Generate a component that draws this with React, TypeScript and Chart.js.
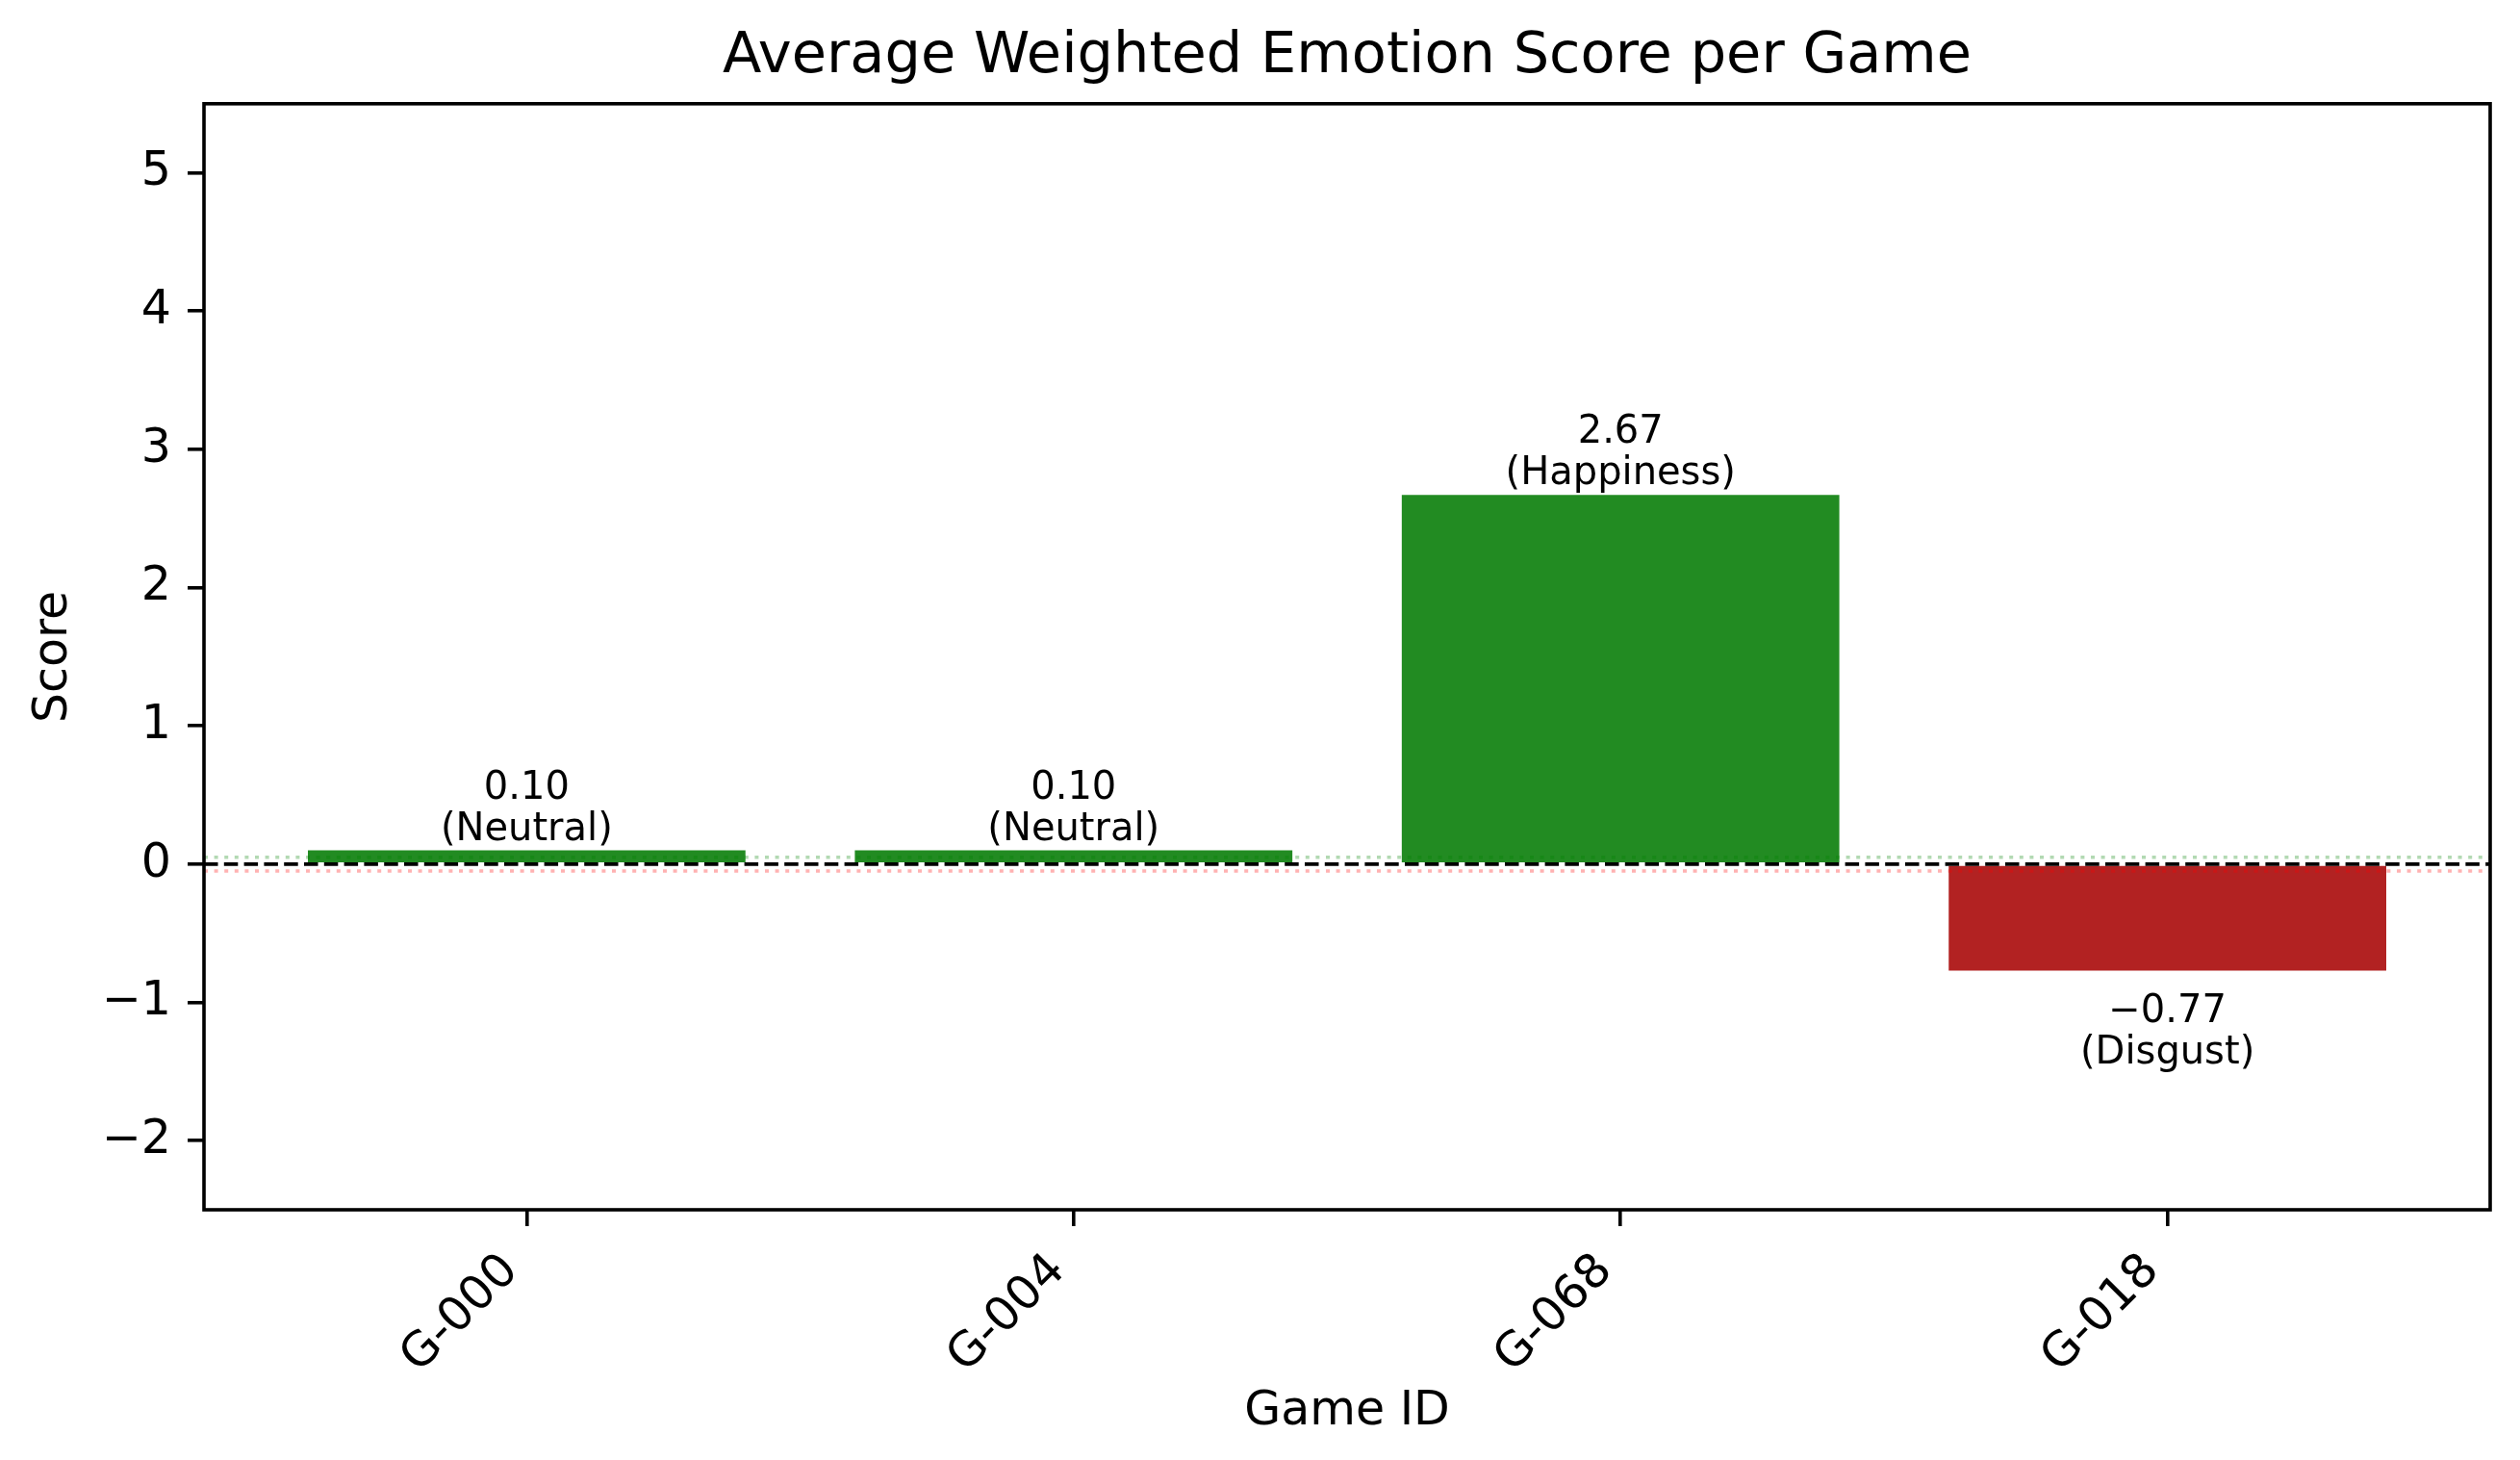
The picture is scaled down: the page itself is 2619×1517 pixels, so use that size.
import { useEffect, useRef } from 'react';
import Chart from 'chart.js/auto';

const gameIds = ['G-000', 'G-004', 'G-068', 'G-018'];
const scores = [0.1, 0.1, 2.67, -0.77];
const emotions = ['Neutral', 'Neutral', 'Happiness', 'Disgust'];
const yTicks = [-2, -1, 0, 1, 2, 3, 4, 5];
const neutralBand = [0.05, -0.05];

const minus = (v: number) => (v < 0 ? '\u2212' + Math.abs(v) : String(v));

export default function App() {
  const canvasRef = useRef<HTMLCanvasElement>(null);
  const chartRef = useRef<Chart | null>(null);

  useEffect(() => {
    document.body.style.margin = '0';
    if (!canvasRef.current) return;
    if (chartRef.current) chartRef.current.destroy();

    Chart.defaults.font.family = "'DejaVu Sans', sans-serif";
    Chart.defaults.color = '#000';

    // reference lines + value labels, drawn over the bars
    const overlay = {
      id: 'overlay',
      afterDatasetsDraw(chart: any) {
        const { ctx, chartArea, scales } = chart;
        const y = scales.y;
        ctx.save();

        const hline = (v: number, color: string, width: number, dash: number[]) => {
          const py = y.getPixelForValue(v);
          ctx.beginPath();
          ctx.strokeStyle = color;
          ctx.lineWidth = width;
          ctx.setLineDash(dash);
          ctx.moveTo(chartArea.left, py);
          ctx.lineTo(chartArea.right, py);
          ctx.stroke();
        };
        hline(0, '#000', 3.6, [14.5, 6.3]);
        hline(neutralBand[0], 'rgba(0,128,0,0.3)', 3.6, [4, 6.6]);
        hline(neutralBand[1], 'rgba(255,0,0,0.3)', 3.6, [4, 6.6]);
        ctx.setLineDash([]);

        const meta = chart.getDatasetMeta(0);
        ctx.font = "40px 'DejaVu Sans'";
        ctx.fillStyle = '#000';
        ctx.textAlign = 'center';
        ctx.textBaseline = 'alphabetic';
        meta.data.forEach((bar: any, i: number) => {
          const v = scores[i];
          const py = y.getPixelForValue(v);
          const txt = (v < 0 ? '\u2212' : '') + Math.abs(v).toFixed(2);
          if (v >= 0) {
            ctx.fillText(txt, bar.x, py - 54);
            ctx.fillText('(' + emotions[i] + ')', bar.x, py - 11);
          } else {
            ctx.fillText(txt, bar.x, py + 54);
            ctx.fillText('(' + emotions[i] + ')', bar.x, py + 97);
          }
        });
        ctx.restore();
      },
      afterDraw(chart: any) {
        const { ctx, chartArea } = chart;
        ctx.save();
        ctx.strokeStyle = '#000';
        ctx.lineWidth = 3.6;
        ctx.strokeRect(
          chartArea.left,
          chartArea.top,
          chartArea.right - chartArea.left,
          chartArea.bottom - chartArea.top
        );
        ctx.restore();
      },
    };

    chartRef.current = new Chart(canvasRef.current, {
      type: 'bar',
      data: {
        datasets: [
          {
            data: scores.map((v, i) => ({ x: i, y: v })),
            backgroundColor: scores.map(v => (v >= 0 ? '#228B22' : '#B22222')),
            borderWidth: 0,
            barPercentage: 0.8,
            categoryPercentage: 1,
          },
        ],
      },
      options: {
        animation: false,
        responsive: false,
        devicePixelRatio: 1,
        layout: { padding: { top: 0, right: 31, bottom: 0, left: 0 } },
        plugins: {
          legend: { display: false },
          tooltip: { enabled: false },
          title: {
            display: true,
            fullSize: false,
            text: 'Average Weighted Emotion Score per Game',
            font: { size: 59, weight: 'normal' },
            color: '#000',
            padding: { top: 24, bottom: 13 },
          },
        },
        scales: {
          x: {
            type: 'linear',
            min: -0.59,
            max: 3.59,
            offset: false,
            afterBuildTicks: (scale: any) => {
              scale.ticks = gameIds.map((_, i) => ({ value: i }));
            },
            afterFit: (scale: any) => {
              scale.height = 260;
            },
            grid: {
              offset: false,
              drawOnChartArea: false,
              drawTicks: true,
              tickLength: 17,
              color: '#000',
              lineWidth: 3.6,
            },
            border: { display: false },
            ticks: {
              autoSkip: false,
              minRotation: 45,
              maxRotation: 45,
              padding: 18,
              labelOffset: -16,
              font: { size: 49 },
              color: '#000',
              callback: (v: any) => gameIds[v] ?? '',
            },
            title: {
              display: true,
              text: 'Game ID',
              font: { size: 49 },
              color: '#000',
              padding: { top: 0, bottom: 20 },
            },
          },
          y: {
            min: -2.5,
            max: 5.5,
            afterBuildTicks: (scale: any) => {
              scale.ticks = yTicks.map(v => ({ value: v }));
            },
            afterFit: (scale: any) => {
              scale.width = 212;
            },
            grid: {
              drawOnChartArea: false,
              drawTicks: true,
              tickLength: 17,
              color: '#000',
              lineWidth: 3.6,
            },
            border: { display: false },
            ticks: {
              padding: 17,
              font: { size: 49 },
              color: '#000',
              callback: (v: any) => minus(v),
            },
            title: {
              display: true,
              text: 'Score',
              font: { size: 49 },
              color: '#000',
              padding: { top: 27, bottom: 0 },
            },
          },
        },
      },
      plugins: [overlay],
    } as any);

    return () => {
      if (chartRef.current) {
        chartRef.current.destroy();
        chartRef.current = null;
      }
    };
  }, []);

  return (
    <div style={{ width: 2619, height: 1517, background: '#fff' }}>
      <canvas ref={canvasRef} width={2619} height={1517} style={{ display: 'block' }}></canvas>
    </div>
  );
}
